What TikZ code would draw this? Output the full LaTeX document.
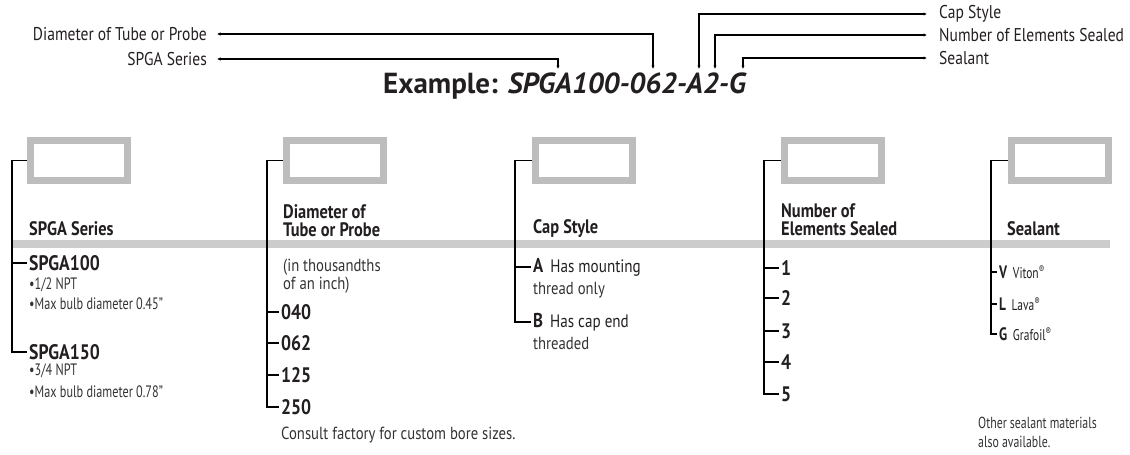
\documentclass[tikz,border=0pt]{standalone}
\usepackage{fontspec}
\setmainfont{PT Sans}[FakeStretch=0.84]
\newfontfamily\titlefont{PT Sans}
\newfontfamily\narrowfont{PT Sans}[FakeStretch=0.74]
\usetikzlibrary{arrows.meta}
\definecolor{ink}{HTML}{231F20}
\definecolor{boxgray}{HTML}{BDBDBD}
\definecolor{rulegray}{HTML}{CCCCCC}

\begin{document}
\begin{tikzpicture}[x=1pt,y=-1pt]
\tikzstyle{every node}+=[inner sep=0pt, text=ink]
\tikzstyle{codebox}=[draw=boxgray, line width=7pt, minimum width=97pt, minimum height=40pt]
\tikzstyle{lead}=[black, line width=1.1pt, {Latex[length=3.5pt,width=3.5pt]}-{Latex[length=3.5pt,width=3.5pt]}]
\tikzstyle{brace}=[black, line width=1.4pt, shorten >=2.5pt]
\tikzstyle{toplabel}=[font=\fontsize{18.5}{20}\selectfont]
\tikzstyle{head}=[anchor=west, align=left, font=\fontsize{19.5}{18}\selectfont\bfseries]
\tikzstyle{item}=[anchor=west, font=\fontsize{21}{22}\selectfont\bfseries]
\tikzstyle{keyitem}=[anchor=west, font=\fontsize{18}{20}\selectfont]
\tikzstyle{note}=[anchor=west, align=left, text=black!80, font=\narrowfont\fontsize{16.5}{19}\selectfont]
\tikzstyle{bignote}=[anchor=west, align=left, text=black!80, font=\fontsize{17.5}{18}\selectfont]
\useasboundingbox (0,0) rectangle (1130,455);
\fill [rulegray] (12,240) rectangle (1110,248);
\draw (383,93) node [anchor=base west, font=\titlefont\fontsize{29}{30}\selectfont\bfseries] (title) {Example: \textit{SPGA100-062-A2-G}};
\coordinate (tSer) at (558,69);
\coordinate (tDia) at (653,69);
\coordinate (tCap) at (699,69);
\coordinate (tNum) at (715,69);
\coordinate (tSea) at (743,69);
\draw (207,34) node [toplabel, anchor=east] (lDia) {Diameter of Tube or Probe};
\draw (207,59) node [toplabel, anchor=east] (lSer) {SPGA Series};
\draw (939,14) node [toplabel, anchor=west] (lCap) {Cap Style};
\draw (939,35) node [toplabel, anchor=west] (lNum) {Number of Elements Sealed};
\draw (939,58) node [toplabel, anchor=west] (lSea) {Sealant};
\draw [lead, shorten <=10pt] (lDia.east) -| (tDia);
\draw [lead, shorten <=10pt] (lSer.east) -| (tSer);
\draw [lead, shorten >=12pt] (tCap) |- (lCap.west);
\draw [lead, shorten >=12pt] (tNum) |- (lNum.west);
\draw [lead, shorten >=12pt] (tSea) |- (lSea.west);
\draw (79,160.5) node [codebox] (box1) {};
\draw (335,160.5) node [codebox] (box2) {};
\draw (584,160.5) node [codebox] (box3) {};
\draw (832.5,160.5) node [codebox] (box4) {};
\draw (1059.5,160.5) node [codebox] (box5) {};
\coordinate (v1) at (12,160.5);
\coordinate (v2) at (267,160.5);
\coordinate (v3) at (515,160.5);
\coordinate (v4) at (764,160.5);
\coordinate (v5) at (991,160.5);
\draw (29,229) node [head] (h1) {SPGA Series};
\draw (283,221) node [head] (h2) {Diameter of\\Tube or Probe};
\draw (533,229) node [head] (h3) {Cap Style};
\draw (781,220) node [head] (h4) {Number of\\Elements Sealed};
\draw (1007,229) node [head] (h5) {Sealant};
\draw (29,263) node [item] (s100) {SPGA100};
\draw (29,285) node [note] (s100a) {\textbullet 1/2 NPT};
\draw (29,304) node [note] (s100b) {\textbullet Max bulb diameter 0.45”};
\draw (29,352) node [item] (s150) {SPGA150};
\draw (29,371) node [note] (s150a) {\textbullet 3/4 NPT};
\draw (29,392) node [note] (s150b) {\textbullet Max bulb diameter 0.78”};
\draw [brace] (box1.west) -- (v1) |- (s150.west);
\draw [brace] (v1 |- s100.west) -- (s100.west);
\draw (283,276) node [bignote] (dUnit) {(in thousandths\\of an inch)};
\foreach \d/\y in {040/312, 062/343, 125/375, 250/407}
  \draw (281,\y) node [item] (d\d) {\d};
\foreach \d in {040, 062, 125}
  \draw [brace] (v2 |- d\d.west) -- (d\d.west);
\draw [brace] (box2.west) -- (v2) |- (d250.west);
\draw (281,435) node [bignote] (dNote) {Consult factory for custom bore sizes.};
\draw (533,267) node [keyitem] (capA) {\textbf{\fontsize{20}{20}\selectfont A}\, Has mounting};
\draw (533,290) node [bignote] (capA2) {thread only};
\draw (533,322) node [keyitem] (capB) {\textbf{\fontsize{20}{20}\selectfont B}\, Has cap end};
\draw (533,343) node [bignote] (capB2) {threaded};
\draw [brace] (v3 |- capA.west) -- (capA.west);
\draw [brace] (box3.west) -- (v3) |- (capB.west);
\foreach \n/\y in {1/268, 2/298, 3/331, 4/362, 5/394}
  \draw (781,\y) node [item] (n\n) {\n};
\foreach \n in {1, 2, 3, 4}
  \draw [brace] (v4 |- n\n.west) -- (n\n.west);
\draw [brace] (box4.west) -- (v4) |- (n5.west);
\draw (999,272) node [keyitem, font=\narrowfont\fontsize{15.5}{18}\selectfont] (seaV) {\textbf{\fontsize{18}{18}\selectfont V}\, Viton\textsuperscript{®}};
\draw (999,304) node [keyitem, font=\narrowfont\fontsize{15.5}{18}\selectfont] (seaL) {\textbf{\fontsize{18}{18}\selectfont L}\, Lava\textsuperscript{®}};
\draw (999,334) node [keyitem, font=\narrowfont\fontsize{15.5}{18}\selectfont] (seaG) {\textbf{\fontsize{18}{18}\selectfont G}\, Grafoil\textsuperscript{®}};
\draw [brace] (v5 |- seaV.west) -- (seaV.west);
\draw [brace] (v5 |- seaL.west) -- (seaL.west);
\draw [brace] (box5.west) -- (v5) |- (seaG.west);
\draw (978,432) node [note, font=\narrowfont\fontsize{16}{19}\selectfont] (seaNote) {Other sealant materials\\also available.};
\end{tikzpicture}
\end{document}
